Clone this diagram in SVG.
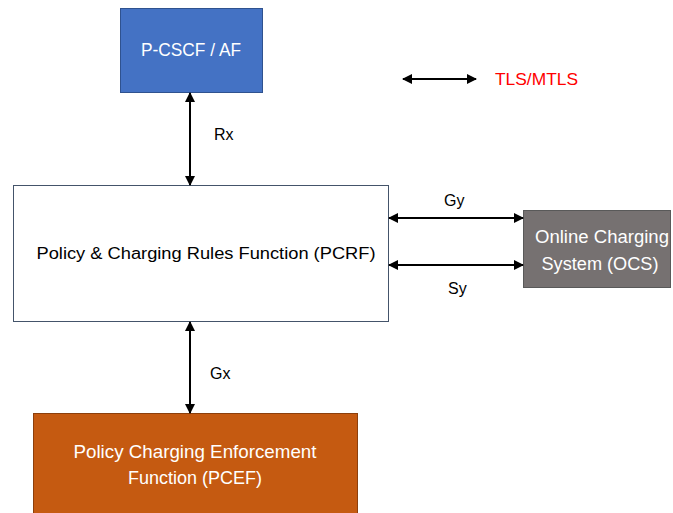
<svg xmlns="http://www.w3.org/2000/svg" width="673" height="513" viewBox="0 0 673 513">
<style>
text{font-family:"Liberation Sans","Open Sans",Arial,sans-serif;}
.lbl{font-size:16px;fill:#000;}
.wt{font-size:17.5px;fill:#fff;text-anchor:middle;}
.con line{stroke:#000;stroke-width:2;}
</style>
<defs>
<marker id="ah" viewBox="0 0 10 10" refX="9" refY="5" markerWidth="5" markerHeight="5" orient="auto-start-reverse" markerUnits="strokeWidth">
<path d="M0,0 L10,5 L0,10 z" fill="#000"/>
</marker>
</defs>
<rect width="673" height="513" fill="#fff"/>
<g id="pcscf">
<rect x="120.5" y="8.5" width="142" height="84" fill="#4472C4" stroke="#2F528F" stroke-width="1"/>
<text class="wt" x="191" y="56" textLength="100" lengthAdjust="spacingAndGlyphs">P-CSCF / AF</text>
</g>
<g id="pcrf">
<rect x="13.5" y="185.5" width="375" height="136" fill="#fff" stroke="#44546A" stroke-width="1"/>
<text class="lbl" x="206" y="259" font-size="17" text-anchor="middle" textLength="339" lengthAdjust="spacingAndGlyphs">Policy &amp; Charging Rules Function (PCRF)</text>
</g>
<g id="ocs">
<rect x="523.5" y="210.5" width="147" height="77" fill="#767171" stroke="#595959" stroke-width="1"/>
<text class="wt" x="602" y="243" textLength="134" lengthAdjust="spacingAndGlyphs">Online Charging</text>
<text class="wt" x="600" y="270" textLength="117" lengthAdjust="spacingAndGlyphs">System (OCS)</text>
</g>
<g id="pcef">
<rect x="33.5" y="413.5" width="324" height="105" fill="#C55A11" stroke="#8C3F0C" stroke-width="1"/>
<text class="wt" x="195" y="458" textLength="243" lengthAdjust="spacingAndGlyphs">Policy Charging Enforcement</text>
<text class="wt" x="195" y="484" textLength="134" lengthAdjust="spacingAndGlyphs">Function (PCEF)</text>
</g>
<g id="legend">
<line x1="403" y1="79" x2="476" y2="79" stroke="#000" stroke-width="2" marker-start="url(#ah)" marker-end="url(#ah)"/>
<text x="495" y="85" font-size="17" fill="#FF0000" textLength="83" lengthAdjust="spacingAndGlyphs">TLS/MTLS</text>
</g>
<g id="connectors" class="con">
<line x1="190" y1="93" x2="190" y2="185" marker-start="url(#ah)" marker-end="url(#ah)"/>
<line x1="389" y1="218" x2="523" y2="218" marker-start="url(#ah)" marker-end="url(#ah)"/>
<line x1="389" y1="265" x2="523" y2="265" marker-start="url(#ah)" marker-end="url(#ah)"/>
<line x1="190" y1="322" x2="190" y2="413" marker-start="url(#ah)" marker-end="url(#ah)"/>
<text class="lbl" x="214" y="140">Rx</text>
<text class="lbl" x="444" y="206">Gy</text>
<text class="lbl" x="448" y="294">Sy</text>
<text class="lbl" x="210" y="379">Gx</text>
</g>
</svg>
